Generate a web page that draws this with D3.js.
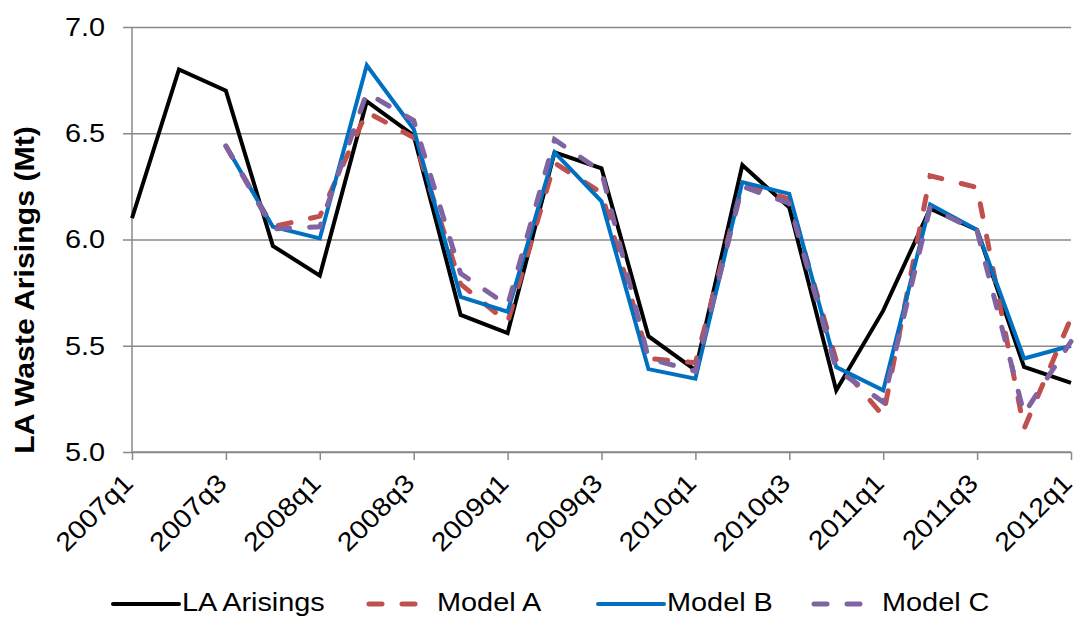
<!DOCTYPE html>
<html>
<head>
<meta charset="utf-8">
<script src="https://cdn.jsdelivr.net/npm/d3@7"></script>
<style>
  html, body { margin: 0; padding: 0; background: #fff; }
  svg { display: block; font-family: "Liberation Sans", Arial, sans-serif; }
</style>
</head>
<body>
<svg id="chart" width="1074" height="618"></svg>
<script>
// ---- data ----
const categories = ["2007q1","2007q2","2007q3","2007q4","2008q1","2008q2","2008q3","2008q4",
  "2009q1","2009q2","2009q3","2009q4","2010q1","2010q2","2010q3","2010q4",
  "2011q1","2011q2","2011q3","2011q4","2012q1"];
const tickLabels = ["2007q1","2007q3","2008q1","2008q3","2009q1","2009q3","2010q1","2010q3","2011q1","2011q3","2012q1"];
const yTicks = [5.0, 5.5, 6.0, 6.5, 7.0];
const laArisings = [6.10, 6.80, 6.70, 5.97, 5.83, 6.65, 6.49, 5.645, 5.56, 6.41, 6.335, 5.545, 5.385, 6.35, 6.15, 5.29, 5.665, 6.145, 6.045, 5.40, 5.325];
const modelA = [null, null, 6.44, 6.06, 6.11, 6.60, 6.48, 5.79, 5.61, 6.36, 6.22, 5.44, 5.42, 6.26, 6.19, 5.43, 5.17, 6.30, 6.245, 5.11, 5.63];
const modelB = [null, null, 6.44, 6.06, 6.005, 6.82, 6.52, 5.73, 5.66, 6.41, 6.18, 5.39, 5.345, 6.27, 6.215, 5.40, 5.29, 6.165, 6.045, 5.44, 5.50];
const modelC = [null, null, 6.44, 6.05, 6.06, 6.69, 6.56, 5.84, 5.69, 6.47, 6.32, 5.44, 5.38, 6.25, 6.17, 5.39, 5.235, 6.15, 6.04, 5.18, 5.52];
const seriesNames = ["LA Arisings", "Model A", "Model B", "Model C"];

(function() {
  const series = [
    {name: seriesNames[0], values: laArisings, color: "#000000", width: 4, dash: null},
    {name: seriesNames[1], values: modelA, color: "#C0504D", width: 5, dash: "13,20"},
    {name: seriesNames[2], values: modelB, color: "#0070C0", width: 4, dash: null},
    {name: seriesNames[3], values: modelC, color: "#8064A2", width: 5, dash: "13,20"}
  ];

  const svg = d3.select("#chart");
  const pL = 132, pR = 1071, pT = 27, pB = 452;
  const gridColor = "#898989";

  const x = d3.scalePoint().domain(categories).range([pL, pR]);
  const y = d3.scaleLinear().domain([5, 7]).range([pB, pT]);

  function stretch(sel, k) {
    sel.each(function() {
      const len = this.getComputedTextLength();
      d3.select(this).attr("textLength", len * k).attr("lengthAdjust", "spacingAndGlyphs");
    });
  }

  // gridlines + y axis
  const yAxis = d3.axisLeft(y).tickValues(yTicks).tickFormat(d3.format(".1f"))
    .tickSize(-(pR - pL));
  const gy = svg.append("g").attr("transform", `translate(${pL},0)`).call(yAxis);
  gy.select(".domain").remove();
  gy.selectAll(".tick line").attr("stroke", gridColor).attr("stroke-width", 1.5).attr("x1", -9);
  gy.selectAll(".tick text").attr("font-size", 26).attr("fill", "#000")
    .attr("font-family", "Liberation Sans, Arial, sans-serif").attr("x", -27);
  stretch(gy.selectAll(".tick text"), 1.11);

  // y axis line
  svg.append("line").attr("x1", pL).attr("x2", pL).attr("y1", pT).attr("y2", pB)
    .attr("stroke", gridColor).attr("stroke-width", 1.5);

  // x axis
  const xAxis = d3.axisBottom(x).tickValues(tickLabels).tickSize(8).tickFormat(d => d);
  const gx = svg.append("g").attr("transform", `translate(0,${pB})`).call(xAxis);
  gx.select(".domain").attr("stroke", gridColor).attr("stroke-width", 1.5).attr("d", `M${pL},0H${pR}`);
  gx.selectAll(".tick line").attr("stroke", gridColor).attr("stroke-width", 1.5);
  gx.selectAll(".tick text")
    .attr("font-size", 26).attr("fill", "#000")
    .attr("font-family", "Liberation Sans, Arial, sans-serif")
    .attr("text-anchor", "end")
    .attr("dy", null).attr("y", 0).attr("x", 0)
    .attr("transform", "translate(2,33) rotate(-45)");
  stretch(gx.selectAll(".tick text"), 1.11);

  // y title
  const yt = svg.append("text")
    .attr("transform", `translate(34,290) rotate(-90)`)
    .attr("text-anchor", "middle")
    .attr("font-size", 27).attr("font-weight", "bold")
    .text("LA Waste Arisings (Mt)");
  stretch(yt, 1.12);

  // lines
  const line = d3.line()
    .defined(d => d != null)
    .x((d, i) => x(categories[i]))
    .y(d => y(d));

  series.forEach(s => {
    svg.append("path")
      .datum(s.values)
      .attr("fill", "none")
      .attr("stroke", s.color)
      .attr("stroke-width", s.width)
      .attr("stroke-linejoin", "miter")
      .attr("stroke-linecap", s.dash ? "round" : "butt")
      .attr("stroke-dasharray", s.dash)
      .attr("d", line);
  });

  // legend
  const legendX = [113, 367, 598, 812];
  const legendY = 604;
  series.forEach((s, i) => {
    const g = svg.append("g").attr("transform", `translate(${legendX[i]},${legendY})`);
    g.append("line").attr("x1", s.dash ? 2 : 0).attr("x2", 66).attr("y1", 0).attr("y2", 0)
      .attr("stroke", s.color).attr("stroke-width", s.width)
      .attr("stroke-linecap", "round")
      .attr("stroke-dasharray", s.dash ? "13,20" : null);
    const t = g.append("text").attr("x", s.dash ? 70 : 69).attr("y", 7)
      .attr("font-size", 26).text(s.name);
    stretch(t, 1.11);
  });
})();
</script>
</body>
</html>
